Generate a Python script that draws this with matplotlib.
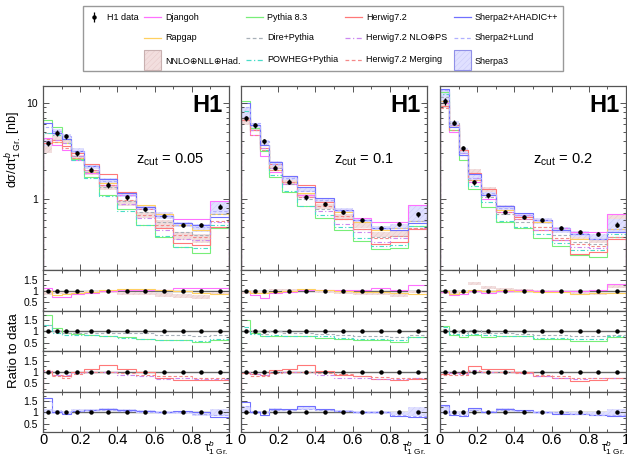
import numpy as np
import matplotlib
matplotlib.use("Agg")
from matplotlib import pyplot as plt
from matplotlib.patches import Rectangle
from matplotlib.ticker import MultipleLocator, FuncFormatter, NullFormatter, FixedLocator

plt.rcParams['font.family'] = ['Liberation Sans', 'DejaVu Sans']
plt.rcParams['mathtext.fontset'] = 'custom'
plt.rcParams['mathtext.rm'] = 'Liberation Sans'
plt.rcParams['mathtext.it'] = 'Liberation Sans:italic'
plt.rcParams['hatch.linewidth'] = 0.3

W, H = 627, 457

# bin edges of tau_1^b (groomed)
EDGES = [0, 0.05, 0.1, 0.15, 0.22, 0.3, 0.4, 0.5, 0.6, 0.7, 0.8, 0.9, 1.0]
ZCUTS = ["0.05", "0.1", "0.2"]

# H1 data [nb], one list per z_cut
data_005 = [3.77, 4.87, 4.46, 2.97, 2.00, 1.38, 1.03, 0.787, 0.665, 0.527, 0.527, 0.82]
data_01 = [6.92, 5.81, 3.99, 2.10, 1.50, 1.04, 0.873, 0.727, 0.604, 0.499, 0.549, 0.692]
data_02 = [10.4, 6.19, 3.35, 1.49, 1.09, 0.727, 0.64, 0.595, 0.491, 0.446, 0.425, 0.532]
# relative uncertainties of the data
err_005 = [0.07, 0.07, 0.06, 0.06, 0.06, 0.07, 0.06, 0.05, 0.05, 0.05, 0.05, 0.06]
err_01 = [0.06, 0.06, 0.06, 0.06, 0.06, 0.06, 0.05, 0.05, 0.05, 0.05, 0.05, 0.06]
err_02 = [0.08, 0.06, 0.06, 0.06, 0.06, 0.06, 0.05, 0.05, 0.05, 0.05, 0.05, 0.06]

# predictions as ratio to data, [zcut 0.05, zcut 0.1, zcut 0.2]
djangoh = [
    [1.15, 0.75, 0.72, 0.85, 0.92, 1.0, 1.05, 1.05, 1.05, 1.15, 1.15, 1.15],
    [1.0, 0.8, 0.7, 0.9, 0.95, 1.05, 1.05, 1.05, 1.05, 1.15, 1.05, 1.25],
    [0.95, 0.8, 0.85, 1.0, 0.9, 1.0, 1.05, 1.0, 1.0, 1.0, 1.05, 1.3]]
rapgap = [
    [1.0, 0.8, 0.85, 0.9, 0.95, 1.05, 1.1, 1.1, 1.05, 1.0, 0.9, 0.85],
    [1.0, 0.9, 0.9, 0.95, 1.0, 1.1, 1.05, 1.0, 0.95, 0.95, 0.9, 0.85],
    [1.0, 0.85, 0.95, 1.05, 1.0, 1.05, 1.0, 0.95, 0.95, 0.85, 0.9, 0.9]]
nnlo_lo = [
    [0.80, 0.85, 0.85, 0.88, 0.88, 0.90, 0.82, 0.80, 0.75, 0.70, 0.65, 0.85],
    [0.85, 0.88, 0.90, 1.00, 0.95, 1.00, 0.90, 0.85, 0.82, 0.80, 0.72, 0.90],
    [0.85, 0.88, 0.90, 1.25, 1.08, 1.05, 1.00, 0.93, 0.90, 0.85, 0.82, 1.15]]
nnlo_hi = [
    [1.00, 0.95, 0.95, 0.97, 0.98, 1.00, 0.95, 0.93, 0.90, 0.85, 0.82, 0.95],
    [1.00, 0.98, 1.00, 1.10, 1.08, 1.08, 1.00, 0.95, 0.92, 0.90, 0.85, 1.00],
    [1.00, 0.98, 1.00, 1.38, 1.20, 1.15, 1.08, 1.02, 1.00, 0.95, 0.92, 1.30]]
pythia = [
    [1.75, 1.15, 0.93, 0.87, 0.84, 0.80, 0.75, 0.67, 0.60, 0.60, 0.52, 0.60],
    [1.50, 0.95, 0.78, 0.80, 0.78, 0.80, 0.72, 0.65, 0.60, 0.60, 0.55, 0.75],
    [1.25, 0.85, 0.75, 0.85, 0.75, 0.78, 0.78, 0.65, 0.65, 0.58, 0.58, 0.75]]
dire = [
    [1.3, 1.0, 0.95, 0.95, 0.95, 0.95, 0.92, 0.92, 0.85, 0.85, 0.80, 0.85],
    [1.0, 1.0, 0.9, 1.0, 0.95, 0.95, 0.9, 0.85, 0.8, 0.8, 0.75, 0.85],
    [1.1, 1.0, 0.95, 1.05, 0.95, 0.95, 0.9, 0.85, 0.85, 0.8, 0.8, 0.85]]
powheg = [
    [1.3, 0.95, 0.85, 0.85, 0.82, 0.78, 0.72, 0.68, 0.62, 0.6, 0.58, 0.65],
    [1.2, 0.9, 0.8, 0.85, 0.8, 0.8, 0.78, 0.7, 0.65, 0.65, 0.6, 0.75],
    [1.2, 0.9, 0.85, 0.9, 0.85, 0.8, 0.8, 0.72, 0.7, 0.65, 0.68, 0.8]]
herwig = [
    [1.0, 0.85, 0.8, 1.0, 1.15, 1.3, 1.15, 1.0, 0.75, 0.65, 0.62, 0.62],
    [0.95, 0.9, 0.85, 1.1, 1.15, 1.32, 1.05, 0.85, 0.8, 0.67, 0.65, 0.7],
    [0.9, 0.95, 0.95, 1.25, 1.15, 1.15, 1.0, 0.8, 0.75, 0.6, 0.65, 0.72]]
herwig_nlo = [
    [1.05, 0.85, 0.85, 0.95, 1.0, 1.0, 0.85, 0.8, 0.7, 0.72, 0.7, 0.7],
    [1.0, 0.9, 0.85, 1.0, 1.0, 1.0, 0.85, 0.75, 0.75, 0.7, 0.7, 0.72],
    [1.0, 0.95, 0.9, 1.1, 1.0, 1.0, 0.95, 0.8, 0.75, 0.7, 0.72, 0.75]]
herwig_merg = [
    [1.1, 0.8, 0.75, 0.9, 1.0, 1.0, 0.95, 0.85, 0.8, 0.8, 0.75, 0.72],
    [0.95, 0.8, 0.8, 0.95, 1.0, 1.0, 0.95, 0.9, 0.8, 0.78, 0.75, 0.72],
    [0.85, 0.85, 0.85, 1.05, 1.0, 1.0, 0.95, 0.85, 0.8, 0.75, 0.75, 0.75]]
sherpa = [
    [1.65, 1.0, 0.95, 1.05, 1.1, 1.15, 1.1, 1.05, 1.0, 1.05, 1.0, 0.78],
    [1.45, 1.0, 0.9, 1.15, 1.15, 1.28, 1.15, 1.05, 1.0, 1.0, 0.85, 0.8],
    [1.35, 0.9, 0.85, 1.2, 1.0, 1.15, 1.1, 1.0, 0.95, 0.95, 0.9, 0.85]]
sherpa_lund = [
    [1.5, 1.05, 1.0, 1.05, 1.1, 1.1, 1.05, 1.0, 1.0, 1.0, 0.95, 0.9],
    [1.3, 1.05, 1.0, 1.1, 1.1, 1.15, 1.1, 1.05, 1.0, 1.0, 0.9, 0.85],
    [1.3, 0.95, 0.9, 1.1, 1.05, 1.1, 1.05, 1.0, 1.0, 0.95, 0.9, 0.9]]
sherpa3_lo = [
    [0.95, 0.95, 0.95, 1.0, 1.02, 1.05, 1.02, 0.98, 0.92, 0.95, 0.85, 0.82],
    [1.0, 0.95, 0.92, 1.05, 1.05, 1.12, 1.05, 1.0, 0.95, 0.95, 0.9, 0.85],
    [0.95, 0.95, 0.9, 1.05, 0.98, 1.05, 1.0, 0.92, 0.9, 0.9, 0.88, 0.85]]
sherpa3_hi = [
    [1.15, 1.1, 1.05, 1.15, 1.15, 1.18, 1.15, 1.1, 1.08, 1.08, 1.02, 1.15],
    [1.3, 1.05, 1.02, 1.18, 1.15, 1.25, 1.15, 1.1, 1.05, 1.05, 1.0, 1.25],
    [1.3, 1.05, 1.0, 1.2, 1.08, 1.18, 1.12, 1.05, 1.03, 1.02, 1.0, 1.15]]

DATA = [data_005, data_01, data_02]
ERRS = [err_005, err_01, err_02]

# styles
LINES = {
    "Djangoh": (djangoh, dict(color='#ff70ff', ls='-')),
    "Rapgap": (rapgap, dict(color='#ffd060', ls='-')),
    "Pythia 8.3": (pythia, dict(color='#78ee78', ls='-')),
    "Dire+Pythia": (dire, dict(color='#a8b0b8', ls=(0, (3, 2)))),
    "POWHEG+Pythia": (powheg, dict(color='#48dcc8', ls=(0, (4, 2, 1, 2)))),
    "Herwig7.2": (herwig, dict(color='#ff7878', ls='-')),
    "Herwig7.2 NLO\u2295PS": (herwig_nlo, dict(color='#cc88f0', ls=(0, (4, 2, 1, 2)))),
    "Herwig7.2 Merging": (herwig_merg, dict(color='#f48888', ls=(0, (3, 2)))),
    "Sherpa2+AHADIC++": (sherpa, dict(color='#7070ff', ls='-')),
    "Sherpa2+Lund": (sherpa_lund, dict(color='#b0b0ff', ls=(0, (3, 2)))),
}
BANDS = {
    "NNLO\u2295NLL\u2295Had.": (nnlo_lo, nnlo_hi, dict(facecolor='#f2dede', edgecolor='#e4c4c4')),
    "Sherpa3": (sherpa3_lo, sherpa3_hi, dict(facecolor='#e0e0ff', edgecolor='#c4c4f8')),
}
ROWS = [
    ["NNLO\u2295NLL\u2295Had.", "Djangoh", "Rapgap"],
    ["Pythia 8.3", "Dire+Pythia", "POWHEG+Pythia"],
    ["Herwig7.2", "Herwig7.2 NLO\u2295PS", "Herwig7.2 Merging"],
    ["Sherpa3", "Sherpa2+AHADIC++", "Sherpa2+Lund"],
]

fig = plt.figure(figsize=(W / 100, H / 100), dpi=100)


def px_axes(x0, y0, x1, y1):
    return fig.add_axes([x0 / W, 1 - y1 / H, (x1 - x0) / W, (y1 - y0) / H])


def style_axis(ax):
    for s in ax.spines.values():
        s.set_color('#555555')
        s.set_linewidth(0.9)
    ax.tick_params(which='both', direction='in', top=True, right=True,
                   color='#555555', width=0.7)
    ax.tick_params(which='major', length=4)
    ax.tick_params(which='minor', length=2.5)
    ax.xaxis.set_major_locator(MultipleLocator(0.2))
    ax.xaxis.set_minor_locator(MultipleLocator(0.1))
    ax.set_xlim(0, 1)


def draw(ax, name, k, scale):
    if name in BANDS:
        lo, hi, st = BANDS[name]
        ax.stairs(np.array(hi[k]) * scale, EDGES, baseline=np.array(lo[k]) * scale,
                  fill=True, hatch='//////', lw=0, **st)
    else:
        vals, st = LINES[name]
        ax.stairs(np.array(vals[k]) * scale, EDGES, lw=0.8, **st)


COLS = [(43, 229), (241, 427), (440, 626)]
centers = [(a + b) / 2 for a, b in zip(EDGES[:-1], EDGES[1:])]
ratio_y = np.linspace(270, 432, 5)

for k, (x0, x1) in enumerate(COLS):
    d = np.array(DATA[k])
    e = np.array(ERRS[k])
    ax = px_axes(x0, 86, x1, 270)
    style_axis(ax)
    ax.set_yscale('log')
    ax.set_ylim(0.18, 15)
    for row in ROWS:
        for name in row:
            if name in BANDS:
                draw(ax, name, k, d)
    for row in ROWS:
        for name in row:
            if name not in BANDS:
                draw(ax, name, k, d)
    ax.errorbar(centers, d, yerr=d * e, fmt='o', color='black', ms=2.2,
                elinewidth=0.9, capsize=0, zorder=10)
    ax.set_xticklabels([])
    ax.yaxis.set_major_formatter(FuncFormatter(lambda v, p: f"{v:g}"))
    ax.yaxis.set_minor_formatter(NullFormatter())
    ax.tick_params(axis='y', labelsize=7.5)
    if k > 0:
        ax.set_yticklabels([])
    ax.text(0.968, 0.955, "H1", transform=ax.transAxes, ha='right', va='top',
            fontsize=17, fontweight='bold')
    ax.text(0.5, 0.6, "z$_{\\mathrm{cut}}$ = " + ZCUTS[k], transform=ax.transAxes,
            ha='left', va='center', fontsize=10.5)

    for r, row in enumerate(ROWS):
        rax = px_axes(x0, ratio_y[r], x1, ratio_y[r + 1])
        style_axis(rax)
        rax.set_ylim(0.13, 1.93)
        rax.yaxis.set_major_locator(FixedLocator([0.5, 1, 1.5]))
        rax.yaxis.set_minor_locator(MultipleLocator(0.25))
        rax.yaxis.set_major_formatter(FuncFormatter(lambda v, p: f"{v:g}"))
        rax.tick_params(axis='y', labelsize=7.5)
        rax.tick_params(axis='x', labelsize=10.5, pad=0.5)
        rax.axhline(1, color='#666666', lw=1.0, zorder=1)
        for name in row:
            draw(rax, name, k, 1)
        rax.plot(centers, np.ones(len(centers)), 'o', color='black', ms=2.2, zorder=10)
        if k > 0:
            rax.set_yticklabels([])
        if r < 3:
            rax.set_xticklabels([])
        else:
            rax.xaxis.set_major_formatter(FuncFormatter(lambda v, p: f"{v:g}"))

# overlay in pixel coordinates for labels and legend
lax = fig.add_axes([0, 0, 1, 1])
lax.set_xlim(0, W)
lax.set_ylim(H, 0)
lax.axis('off')

lax.text(14, 150, "d\u03c3/d\u03c4$^{b}_{1\\ \\mathrm{Gr.}}$ [nb]", rotation=90,
         ha='center', va='center', fontsize=9)
lax.text(14, 351, "Ratio to data", rotation=90, ha='center', va='center', fontsize=9.5)
for x0, x1 in COLS:
    lax.text(x1 - 1, 457, "\u03c4$^{b}_{1\\ \\mathrm{Gr.}}$", ha='right', va='bottom', fontsize=8.5)

lax.add_patch(Rectangle((83, 6), 480, 65, fill=False, edgecolor='#999999', lw=1))
lax.errorbar([94], [17], yerr=[[5], [5]], fmt='o', color='black', ms=2.2,
             elinewidth=0.9, capsize=0)
lax.text(107, 17, "H1 data", va='center', fontsize=6.5)

LEG_X = [144, 246, 345, 454]
LEG_Y = [17, 38, 60]
LEG_COLS = [
    ["Djangoh", "Rapgap", "NNLO\u2295NLL\u2295Had."],
    ["Pythia 8.3", "Dire+Pythia", "POWHEG+Pythia"],
    ["Herwig7.2", "Herwig7.2 NLO\u2295PS", "Herwig7.2 Merging"],
    ["Sherpa2+AHADIC++", "Sherpa2+Lund", "Sherpa3"],
]
for cx, names in zip(LEG_X, LEG_COLS):
    for cy, name in zip(LEG_Y, names):
        if name in BANDS:
            fc = BANDS[name][2]['facecolor']
            ec = BANDS[name][2]['edgecolor']
            lax.add_patch(Rectangle((cx, cy - 10), 17, 20, facecolor=fc, edgecolor=ec,
                                    hatch='//////', lw=0))
            edge = '#9090e8' if name == "Sherpa3" else '#c8b0b0'
            lax.add_patch(Rectangle((cx, cy - 10), 17, 20, fill=False, edgecolor=edge, lw=0.8))
            lax.text(cx + 21, cy + 1, name, va='center', fontsize=6.5)
        else:
            st = LINES[name][1]
            lax.plot([cx, cx + 17], [cy, cy], lw=0.9, color=st['color'], ls=st['ls'])
            lax.text(cx + 21, cy, name, va='center', fontsize=6.5)

fig.savefig("out.png", dpi=100)
